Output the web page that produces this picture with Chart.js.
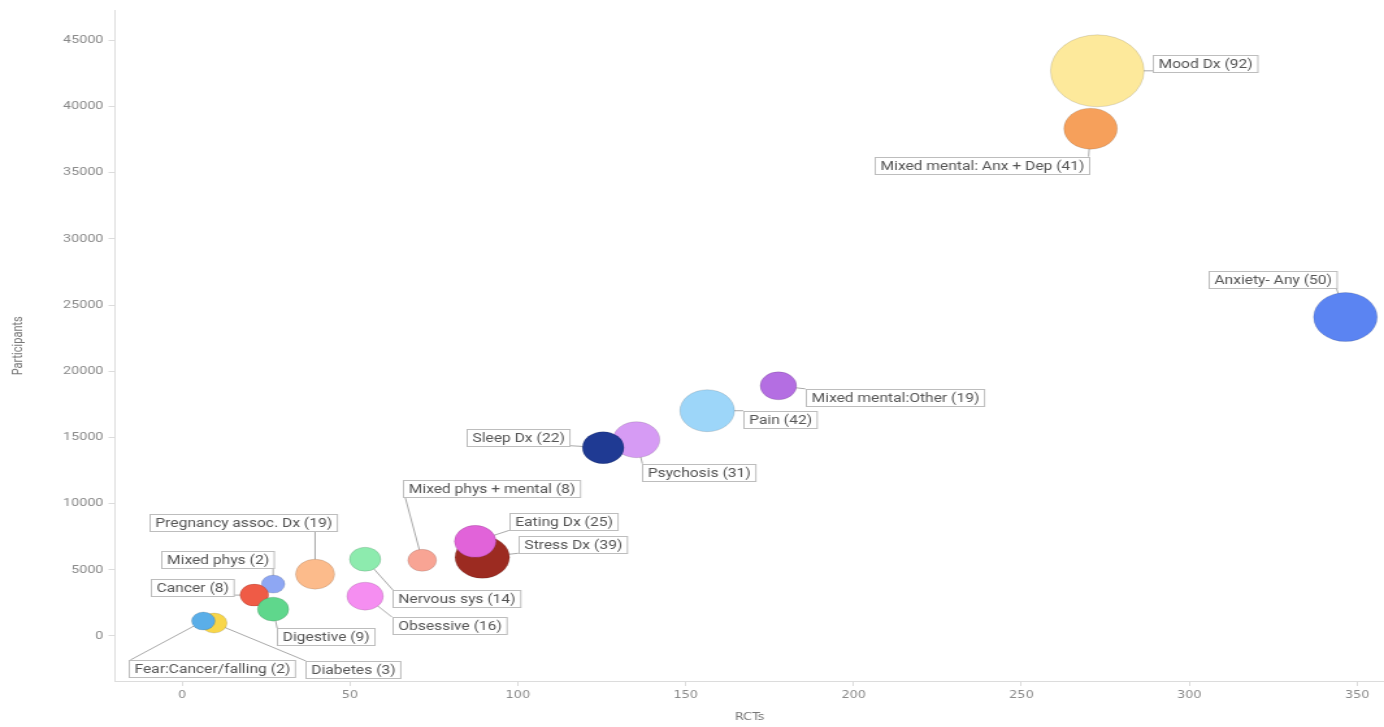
<!DOCTYPE html>
<html>
<head>
<meta charset="utf-8">
<script src="https://cdn.jsdelivr.net/npm/chart.js@4"></script>
<style>
  html, body { margin: 0; padding: 0; background: #fff; overflow: hidden; }
</style>
</head>
<body>
<canvas id="c" width="1065" height="727" style="display:block;width:1384px;height:727px"></canvas>
<script>
// ─── data ────────────────────────────────────────────────────
const names = ['Mood Dx', 'Mixed mental: Anx + Dep', 'Anxiety- Any', 'Mixed mental:Other', 'Pain',
    'Psychosis', 'Sleep Dx', 'Stress Dx', 'Eating Dx', 'Mixed phys + mental', 'Nervous sys',
    'Obsessive', 'Pregnancy assoc. Dx', 'Mixed phys', 'Cancer', 'Digestive', 'Diabetes',
    'Fear:Cancer/falling'];
const counts = [92, 41, 50, 19, 42, 31, 22, 39, 25, 8, 14, 16, 19, 2, 8, 9, 3, 2];
const rcts = [272.6, 270.6, 346.5, 177.6, 156.4, 135.3, 125.4, 89.4, 87.3, 71.5, 54.5, 54.5, 39.6, 27.1, 21.5, 27.1, 9.5, 6.3];
const participants = [42700, 38330, 24100, 18900, 17020, 14830, 14230, 5950, 7150, 5720, 5800, 3010, 4670, 3920, 3090, 2030, 980, 1130];
const radii = [36, 20.5, 24.5, 14, 21, 18, 16, 21, 16, 11, 12, 14, 15, 9, 11, 12, 10, 9];
const colors = ['#fde99b', '#f6a05b', '#5b84f2', '#b46ee2', '#9dd6f9', '#d69bf4', '#1f3a93', '#9c2b21',
    '#e163d9', '#f8a494', '#8debae', '#f58ef1', '#fcbb8b', '#8ea7f3', '#ef5b46', '#5fd78c', '#f8d64a', '#5aaee8'];

// tick labels
const xTicks = [0, 50, 100, 150, 200, 250, 300, 350];
const yTicks = [0, 5000, 10000, 15000, 20000, 25000, 30000, 35000, 40000, 45000];

// ─── layout of the label boxes (css px offsets from the bubble centre) ───
// right: dx is the box's right edge; ax/ay: fixed anchor for the leader line
const labelLayout = [
    { dx: 56, dy: -16 },
    { dx: -2, dy: 28, right: true },
    { dx: -9, dy: -46, right: true },
    { dx: 27, dy: 3 },
    { dx: 36, dy: 0 },
    { dx: 6, dy: 24 },
    { dx: -34, dy: -19, right: true },
    { dx: 36, dy: -21 },
    { dx: 34, dy: -28 },
    { dx: -19, dy: -80, ax: 2, ay: 'bottom' },
    { dx: 28, dy: 31 },
    { dx: 27, dy: 21 },
    { dx: 21, dy: -60, right: true },
    { dx: 0, dy: -33, right: true },
    { dx: -21, dy: -16, right: true },
    { dx: 4, dy: 19 },
    { dx: 92, dy: 38 },
    { dx: -75, dy: 39, ax: 2, ay: 'top' }
];

// canvas is drawn narrow and stretched sideways like the reference
const SX = 1384 / 1065;
const BOX_H = 17;
const BOX_FONT = '12px Roboto, sans-serif';

function boxFor(ctx, i, pt) {
    const L = labelLayout[i];
    ctx.font = BOX_FONT;
    const text = names[i] + ' (' + counts[i] + ')';
    const w = ctx.measureText(text).width + 8;
    let left = pt.x + L.dx / SX;
    if (L.right) left -= w;
    const top = pt.y + L.dy;
    let ax, ay;
    if (L.ax !== undefined) {
        ax = left + L.ax / SX;
        ay = L.ay === 'top' ? top : top + BOX_H;
    } else {
        ax = Math.min(Math.max(pt.x, left), left + w);
        ay = Math.min(Math.max(pt.y, top), top + BOX_H);
    }
    return { left, top, w, text, ax, ay };
}

const boxLabels = {
    id: 'boxLabels',
    beforeDatasetsDraw(chart) {
        const ctx = chart.ctx;
        const pts = chart.getDatasetMeta(0).data;
        ctx.save();
        ctx.strokeStyle = '#a9a9a9';
        ctx.lineWidth = 1;
        pts.forEach((pt, i) => {
            const b = boxFor(ctx, i, pt);
            ctx.beginPath();
            ctx.moveTo(pt.x, pt.y);
            ctx.lineTo(b.ax, b.ay);
            ctx.stroke();
        });
        ctx.restore();
    },
    afterDatasetsDraw(chart) {
        const ctx = chart.ctx;
        const pts = chart.getDatasetMeta(0).data;
        ctx.save();
        pts.forEach((pt, i) => {
            const b = boxFor(ctx, i, pt);
            const l = Math.round(b.left) + 0.5, t = Math.round(b.top) + 0.5;
            ctx.fillStyle = '#fff';
            ctx.fillRect(l, t, b.w, BOX_H);
            ctx.strokeStyle = '#bdbdbd';
            ctx.lineWidth = 1;
            ctx.strokeRect(l, t, b.w, BOX_H);
            ctx.fillStyle = '#555';
            ctx.textBaseline = 'middle';
            ctx.textAlign = 'left';
            ctx.fillText(b.text, l + 4, t + BOX_H / 2 + 0.5);
        });
        ctx.restore();
    }
};

const points = rcts.map((x, i) => ({ x, y: participants[i], r: radii[i] }));

new Chart(document.getElementById('c'), {
    type: 'bubble',
    data: {
        datasets: [{
            data: points,
            backgroundColor: colors,
            borderColor: 'rgba(0,0,0,0.12)',
            borderWidth: 1,
            clip: false
        }]
    },
    options: {
        responsive: false,
        devicePixelRatio: 1,
        animation: false,
        layout: { autoPadding: false, padding: { top: 8, right: 0, bottom: 0, left: 0 } },
        plugins: { legend: { display: false }, tooltip: { enabled: false } },
        scales: {
            x: {
                type: 'linear',
                min: -20,
                max: 358,
                border: { color: '#dcdcdc' },
                grid: { drawOnChartArea: false, drawTicks: true, tickLength: 5, color: '#dcdcdc' },
                ticks: {
                    padding: 3,
                    color: '#8a8a8a',
                    font: { family: '"DejaVu Sans Condensed", Roboto, sans-serif', size: 11 },
                    callback: v => v
                },
                afterBuildTicks: s => { s.ticks = xTicks.map(v => ({ value: v })); },
                afterFit: s => { s.height = 46; },
                title: {
                    display: true,
                    text: 'RCTs',
                    color: '#777',
                    font: { family: '"DejaVu Sans Condensed", Roboto, sans-serif', size: 11 },
                    padding: { top: 0, bottom: 3 }
                }
            },
            y: {
                min: -3400,
                max: 47250,
                border: { color: '#dcdcdc' },
                grid: { drawOnChartArea: false, drawTicks: true, tickLength: 5, color: '#dcdcdc' },
                ticks: {
                    padding: 4,
                    color: '#8a8a8a',
                    font: { family: 'Roboto, sans-serif', size: 11 },
                    callback: v => v
                },
                afterBuildTicks: s => { s.ticks = yTicks.map(v => ({ value: v })); },
                afterFit: s => { s.width = 115 / SX; },
                title: {
                    display: true,
                    text: 'Participants',
                    color: '#777',
                    font: { family: 'Roboto, sans-serif', size: 11 },
                    padding: { top: 8, bottom: 0 }
                }
            }
        }
    },
    plugins: [boxLabels]
});
</script>
</body>
</html>
